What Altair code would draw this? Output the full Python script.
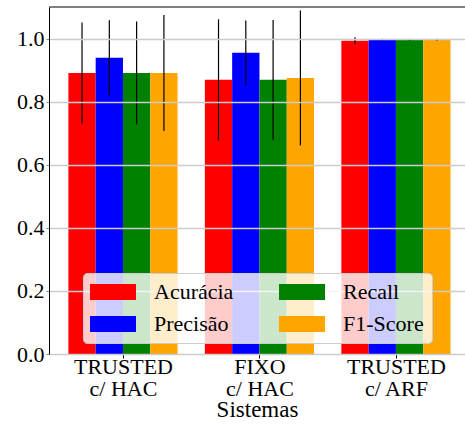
import json

import altair as alt
import pandas as pd

# Systems (x groups) and metrics (bars inside each group)
systems = ["TRUSTED\nc/ HAC", "FIXO\nc/ HAC", "TRUSTED\nc/ ARF"]
metrics = ["Acurácia", "Precisão", "Recall", "F1-Score"]
metric_colors = ["#ff0000", "#0000ff", "#008000", "#ffa500"]

# Mean score per system, one list per metric
acuracia = [0.891, 0.869, 0.993]
precisao = [0.939, 0.955, 0.996]
recall = [0.891, 0.869, 0.996]
f1_score = [0.891, 0.875, 0.996]

# Standard deviation per system, one list per metric
acuracia_std = [0.160, 0.192, 0.011]
precisao_std = [0.119, 0.102, 0.003]
recall_std = [0.163, 0.190, 0.003]
f1_score_std = [0.184, 0.214, 0.003]

y_ticks = [0.0, 0.2, 0.4, 0.6, 0.8, 1.0]

means = [acuracia, precisao, recall, f1_score]
stds = [acuracia_std, precisao_std, recall_std, f1_score_std]

rows = []
for m, metric in enumerate(metrics):
    for s, system in enumerate(systems):
        rows.append({
            "system": system,
            "sys_idx": s,
            "metric": metric,
            "met_idx": m,
            "value": means[m][s],
            "err": stds[m][s],
        })
df = pd.DataFrame(rows)

FONT = "'Liberation Serif', 'Times New Roman', Times, serif"
BAR_W = 0.2

label_parts = [json.dumps(s.split("\n"), ensure_ascii=False) for s in systems]
label_expr = (
    f"datum.value == 0 ? {label_parts[0]} : "
    f"datum.value == 1 ? {label_parts[1]} : {label_parts[2]}"
)

x_scale = alt.Scale(domain=[-0.542, 2.506], nice=False, zero=False)
y_scale = alt.Scale(domain=[0, 1.1], nice=False)

x_axis = alt.Axis(
    values=list(range(len(systems))),
    labelExpr=label_expr,
    grid=False,
    domainColor="black",
    tickColor="black",
    tickSize=4,
    labelPadding=-2,
    labelLineHeight=22,
    titleFont=FONT,
    titleFontSize=23,
    titleFontWeight="normal",
    titleColor="black",
    titlePadding=-1,
)
y_axis = alt.Axis(
    values=y_ticks,
    format=".1f",
    grid=True,
    gridColor="#cccccc",
    gridWidth=1.5,
    zindex=1,
    domainColor="black",
    tickColor="#888888",
    tickSize=3,
    labelPadding=2,
    title=None,
)

base = alt.Chart(df).transform_calculate(
    center=f"datum.sys_idx + (datum.met_idx - 1.5) * {BAR_W}",
    lo="datum.value - datum.err",
    hi="datum.value + datum.err",
).transform_calculate(
    left=f"datum.center - {BAR_W / 2}",
    right=f"datum.center + {BAR_W / 2}",
)

# Wide flat legend swatch: 46 px wide, 16 px tall (symbolSize 256 -> 8 px per unit)
swatch_path = "M-1.5,-1L4.25,-1L4.25,1L-1.5,1Z"

bars = base.mark_bar(strokeWidth=0).encode(
    x=alt.X("left:Q", scale=x_scale, axis=x_axis, title="Sistemas"),
    x2="right:Q",
    y=alt.Y("value:Q", scale=y_scale, axis=y_axis),
    y2=alt.datum(0),
    color=alt.Color(
        "metric:N",
        scale=alt.Scale(domain=metrics, range=metric_colors),
        legend=alt.Legend(
            orient="none",
            legendX=34,
            legendY=266,
            columns=2,
            title=None,
            symbolType=swatch_path,
            symbolSize=256,
            symbolStrokeWidth=0,
            symbolOpacity=1,
            labelOffset=41,
            columnPadding=45,
            rowPadding=10,
            padding=8,
            fillColor="rgba(255,255,255,0.8)",
            strokeColor="#cccccc",
            cornerRadius=4,
            zindex=2,
        ),
    ),
)

errors = base.mark_rule(color="black", strokeWidth=1.2).encode(
    x=alt.X("center:Q", scale=x_scale, title="Sistemas"),
    y=alt.Y("lo:Q", scale=y_scale),
    y2="hi:Q",
)

top_frame = alt.Chart(pd.DataFrame({"top": [1.1]})).mark_rule(
    color="black", strokeWidth=1
).encode(y=alt.Y("top:Q", scale=y_scale))

chart = alt.layer(bars, errors, top_frame).properties(
    width=416,
    height=347,
    autosize=alt.AutoSizeParams(type="none"),
    padding={"left": 49, "top": 7, "right": 0, "bottom": 72},
).configure(
    font=FONT
).configure_view(
    stroke=None
).configure_axis(
    labelFont=FONT,
    labelFontSize=22,
    labelColor="black",
    titleFont=FONT,
    titleFontSize=23,
    titleFontWeight="normal",
    titleColor="black",
).configure_legend(
    labelFont=FONT,
    labelFontSize=22,
    labelColor="black",
)

chart.save("out.html", embed_options={"renderer": "svg", "actions": False})
